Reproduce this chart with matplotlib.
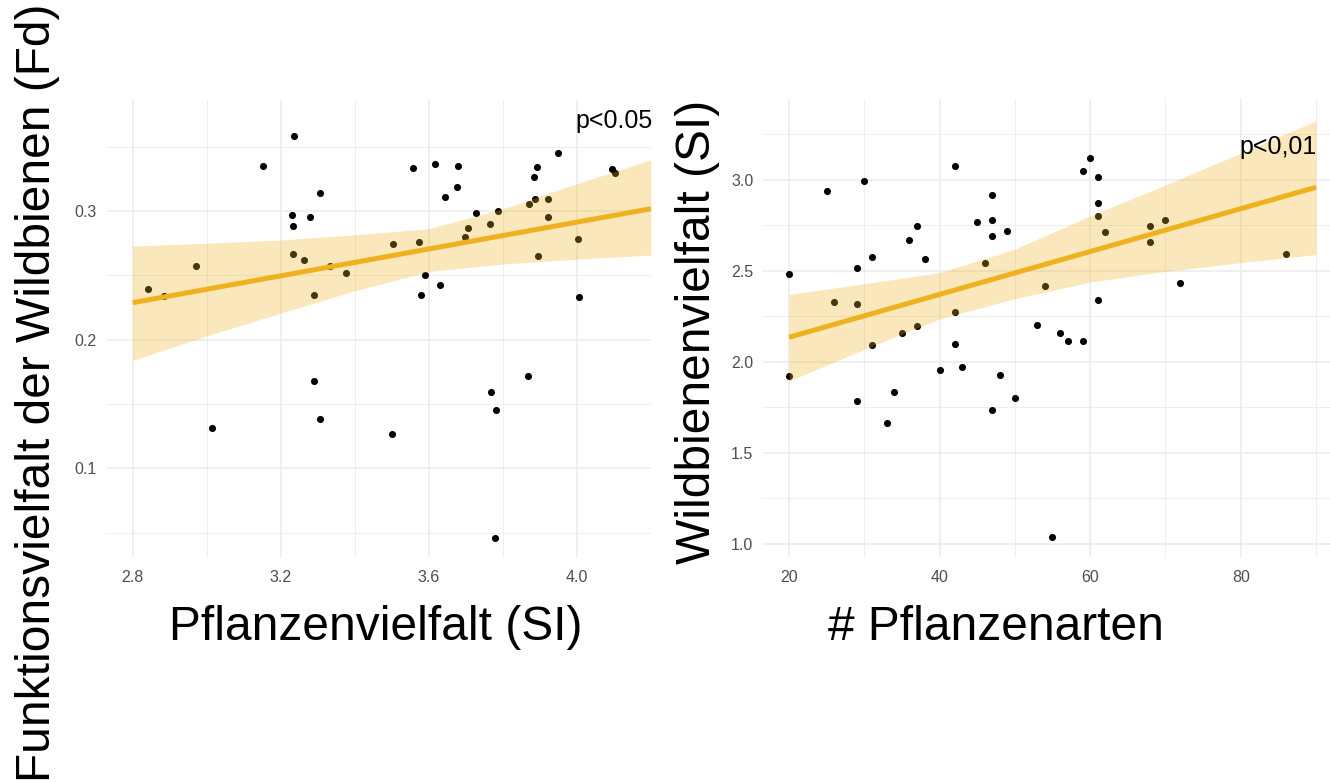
import numpy as np
import matplotlib
matplotlib.use("Agg")
import matplotlib.pyplot as plt
from matplotlib.ticker import MultipleLocator

plt.rcParams['font.family'] = ['Liberation Sans', 'DejaVu Sans']

# left panel: plant diversity (SI) vs functional diversity of wild bees (Fd)
plant_si = [3.291, 3.014, 3.305, 3.501, 3.769, 3.782, 3.868, 3.778,
            3.237, 3.152, 3.306, 3.230, 3.278, 3.234, 3.503, 3.233, 3.262,
            3.334, 3.376, 2.970, 2.842, 2.885, 3.289,
            3.574, 3.590, 3.580, 3.630, 3.557, 3.616, 3.678, 3.676, 3.643,
            3.727, 3.706, 3.697, 3.766, 3.788, 3.871, 3.887, 3.922, 3.921,
            3.885, 3.891, 3.948, 3.895, 4.003, 4.007, 4.096, 4.102]
bee_fd = [0.168, 0.131, 0.138, 0.127, 0.159, 0.145, 0.1716, 0.046,
          0.358, 0.3354, 0.3138, 0.2966, 0.295, 0.2886, 0.2743, 0.2667, 0.262,
          0.2576, 0.2516, 0.2576, 0.2392, 0.234, 0.2345,
          0.2758, 0.250, 0.2345, 0.2423, 0.3333, 0.3369, 0.3351, 0.319, 0.311,
          0.2984, 0.287, 0.2795, 0.2896, 0.300, 0.3055, 0.309, 0.309, 0.295,
          0.3263, 0.3346, 0.3455, 0.2654, 0.2779, 0.2334, 0.3328, 0.3296]

# fitted model as shown (line ends, 95% band)
fit1_x = [2.8, 4.2]
fit1_y = [0.2288, 0.3018]
band1_x = [2.8, 3.0, 3.2, 3.4, 3.6, 3.8, 4.0, 4.2]
band1_lo = [0.184, 0.203, 0.2207, 0.238, 0.253, 0.2588, 0.2627, 0.2658]
band1_hi = [0.2728, 0.275, 0.2775, 0.2815, 0.2862, 0.3018, 0.3212, 0.3399]

# right panel: number of plant species vs wild bee diversity (SI)
n_species = [20, 25, 30, 26, 29, 29, 31, 31, 36, 37, 38, 35, 37, 42, 42, 42,
             45, 47, 47, 47, 49, 46, 53, 54,
             60, 59, 61, 61, 61, 62, 61, 56, 57, 59, 68, 70, 68, 72, 86,
             20, 29, 34, 33, 40, 43, 48, 47, 50, 55]
bee_si = [2.482, 2.9375, 2.993, 2.329, 2.318, 2.513, 2.575, 2.094, 2.669,
          2.746, 2.566, 2.160, 2.197, 3.077, 2.272, 2.096, 2.765, 2.917,
          2.779, 2.691, 2.719, 2.544, 2.199, 2.414,
          3.118, 3.046, 3.013, 2.871, 2.800, 2.713, 2.336, 2.156, 2.116,
          2.116, 2.748, 2.779, 2.656, 2.434, 2.590,
          1.923, 1.785, 1.833, 1.665, 1.956, 1.970, 1.926, 1.732, 1.803, 1.037]

fit2_x = [20, 90]
fit2_y = [2.134, 2.958]
band2_x = [20, 30, 40, 50, 60, 70, 80, 90]
band2_lo = [1.894, 2.068, 2.235, 2.346, 2.4375, 2.496, 2.544, 2.588]
band2_hi = [2.3695, 2.428, 2.489, 2.618, 2.80, 2.97, 3.145, 3.3235]

line_col = '#EFB21E'
grid_col = '#EBEBEB'
tick_col = '#4D4D4D'


def style(ax):
    for sp in ax.spines.values():
        sp.set_visible(False)
    ax.grid(which='major', color=grid_col, lw=1.1)
    ax.grid(which='minor', color=grid_col, lw=0.6)
    ax.set_axisbelow(True)
    ax.tick_params(which='both', length=0, labelsize=11.5, labelcolor=tick_col)
    ax.tick_params(axis='x', pad=9)
    ax.tick_params(axis='y', pad=7)


fig = plt.figure(figsize=(13.3, 7.82), dpi=100)
ax1 = fig.add_axes([0.0802, 0.2877, 0.4092, 0.5844])
ax2 = fig.add_axes([0.5737, 0.2877, 0.4263, 0.5857])

# left
ax1.scatter(plant_si, bee_fd, s=26, color='black', zorder=2, linewidths=0)
ax1.fill_between(band1_x, band1_lo, band1_hi, color=line_col, alpha=0.3,
                 lw=0, zorder=3)
ax1.plot(fit1_x, fit1_y, color=line_col, lw=3.6, zorder=4,
         solid_capstyle='butt')
ax1.text(4.1, 0.37, 'p<0.05', fontsize=18, ha='center', va='center', zorder=5)
ax1.set_xlim(2.7297, 4.2)
ax1.set_ylim(0.0311, 0.3863)
ax1.xaxis.set_minor_locator(MultipleLocator(0.2))
ax1.yaxis.set_minor_locator(MultipleLocator(0.05))
ax1.set_xticks([2.8, 3.2, 3.6, 4.0])
ax1.set_xticklabels(['2.8', '3.2', '3.6', '4.0'])
ax1.set_yticks([0.1, 0.2, 0.3])
ax1.set_yticklabels(['0.1', '0.2', '0.3'])
style(ax1)

# right
ax2.scatter(n_species, bee_si, s=26, color='black', zorder=2, linewidths=0)
ax2.fill_between(band2_x, band2_lo, band2_hi, color=line_col, alpha=0.3,
                 lw=0, zorder=3)
ax2.plot(fit2_x, fit2_y, color=line_col, lw=3.6, zorder=4,
         solid_capstyle='butt')
ax2.text(85, 3.18, 'p<0,01', fontsize=18, ha='center', va='center', zorder=5)
ax2.set_xlim(16.55, 91.86)
ax2.set_ylim(0.9266, 3.443)
ax2.set_xticks([20, 40, 60, 80])
ax2.xaxis.set_minor_locator(MultipleLocator(10))
ax2.set_yticks([1.0, 1.5, 2.0, 2.5, 3.0])
ax2.set_yticklabels(['1.0', '1.5', '2.0', '2.5', '3.0'])
ax2.yaxis.set_minor_locator(MultipleLocator(0.25))
style(ax2)

# axis titles
fig.text(376 / 1330, 1 - 640 / 782, 'Pflanzenvielfalt (SI)', fontsize=34.5,
         ha='center', va='baseline')
fig.text(996 / 1330, 1 - 640 / 782, '# Pflanzenarten', fontsize=34.5,
         ha='center', va='baseline')
fig.text(38 / 1330, 1 - 393 / 782, 'Funktionsvielfalt der Wildbienen (Fd)',
         fontsize=34.5, rotation=90, ha='center', va='center')
fig.text(697 / 1330, 1 - 332 / 782, 'Wildbienenvielfalt (SI)',
         fontsize=34.5, rotation=90, ha='center', va='center')

fig.savefig('out.png', dpi=100, facecolor='white')
